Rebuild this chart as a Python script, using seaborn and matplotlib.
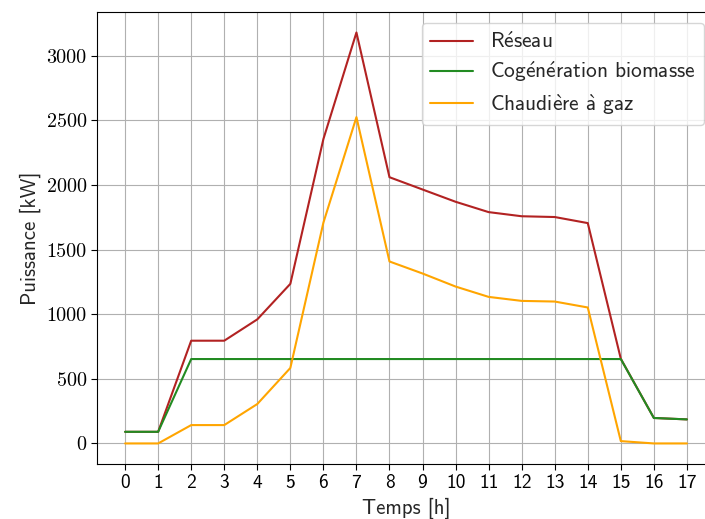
import pandas as pd
import seaborn as sns
import matplotlib.pyplot as plt

hours = list(range(18))
reseau = [90, 90, 795, 795, 960, 1235, 2355, 3180, 2060, 1965, 1870, 1790, 1758, 1752, 1705, 655, 197, 186]
cogen = [90, 90, 653, 653, 653, 653, 653, 653, 653, 653, 653, 653, 653, 653, 653, 653, 197, 186]
gaz = [0, 0, 142, 142, 305, 584, 1708, 2525, 1408, 1315, 1214, 1134, 1103, 1098, 1052, 18, 0, 0]
series = ['Réseau', 'Cogénération biomasse', 'Chaudière à gaz']
# same names written with mathtext accents so the CM sans font can draw them
series_tex = [r'R$\acute{\mathsf{e}}$seau',
              r'Cog$\acute{\mathsf{e}}$n$\acute{\mathsf{e}}$ration biomasse',
              r'Chaudi$\grave{\mathsf{e}}$re $\grave{\mathsf{a}}$ gaz']
colors = ['#b22222', '#228b22', '#ffa500']
yticks = [0, 500, 1000, 1500, 2000, 2500, 3000]

df = pd.DataFrame({
    'Temps': hours * 3,
    'Puissance': reseau + cogen + gaz,
    'Source': [series[0]] * 18 + [series[1]] * 18 + [series[2]] * 18,
})

sns.set_style('ticks')
plt.rcParams['font.family'] = ['cmss10', 'DejaVu Sans']
plt.rcParams['mathtext.fontset'] = 'cm'
plt.rcParams['axes.formatter.use_mathtext'] = True

fig = plt.figure(figsize=(7.05, 5.19), dpi=100)
ax = fig.add_axes([0.1376, 0.106, 0.8766, 0.871])

sns.lineplot(data=df, x='Temps', y='Puissance', hue='Source', hue_order=series,
             palette=colors, linewidth=1.5, ax=ax)

ax.grid(True, color='#b0b0b0', linewidth=0.8)
for s in ax.spines.values():
    s.set_color('black')
    s.set_linewidth(0.8)
ax.tick_params(colors='black', width=0.8, length=4)

ax.set_xticks(hours)
ax.set_xticklabels([str(h) for h in hours], fontfamily='cmss10', fontsize=14)
ax.set_yticks(yticks)
ax.set_yticklabels([str(v) for v in yticks], fontfamily='cmr10', fontsize=14.5)
ax.set_xlabel('Temps [h]', fontsize=15)
ax.set_ylabel('Puissance [kW]', fontsize=15)

handles, labels = ax.get_legend_handles_labels()
ax.legend(handles, series_tex, loc='upper right', fontsize=15.4, frameon=True,
          labelspacing=0.35)

fig.savefig('out.png', dpi=100)
